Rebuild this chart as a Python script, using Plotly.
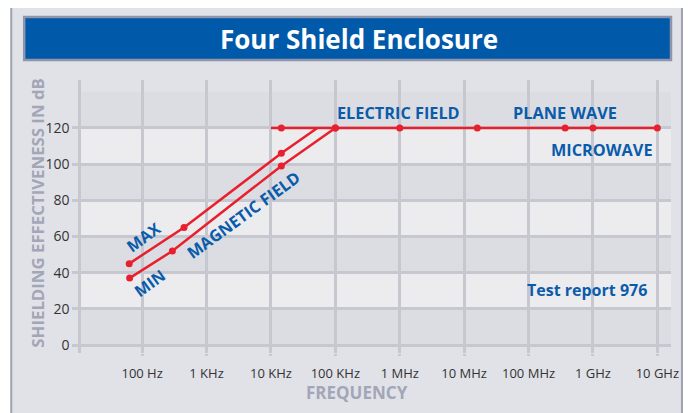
import plotly.graph_objects as go

# ---- data ----
tick_freqs = [1e2, 1e3, 1e4, 1e5, 1e6, 1e7, 1e8, 1e9, 1e10]
tick_labels = ["100 Hz", "1 KHz", "10 KHz", "100 KHz", "1 MHz", "10 MHz", "100 MHz", "1 GHz", "10 GHz"]
y_ticks = [0, 20, 40, 60, 80, 100, 120]

max_freq = [63, 447, 14500, 52500]
max_db = [45, 65, 106, 120]
min_freq = [64, 295, 14500, 100000]
min_db = [37, 52, 99, 120]
wave_freq = [10000, 14500, 1e5, 1e6, 1.6e7, 3.7e8, 1e9, 1e10]
wave_db = [120, 120, 120, 120, 120, 120, 120, 120]

# page body has an 8px offset; coordinates below are screen pixels
OFF = 8
WF, HF = 683, 413
L, R, T, B = 81, 673, 80, 353

def px(xp):
    return (xp - L) / (R - L)

def py(yp):
    return (B - yp) / (B - T)

RED = "#e8202e"
BLUE = "#0a5cab"
GRID = "#c6c7cf"
DARK = "#dcdde2"
LIGHT = "#ececef"
FRAME = "#e1e2e7"
FONT = "Open Sans"

fig = go.Figure()
fig.add_trace(go.Scatter(x=max_freq, y=max_db, mode="lines", line=dict(color=RED, width=2.5)))
fig.add_trace(go.Scatter(x=max_freq[:3], y=max_db[:3], mode="markers", marker=dict(color=RED, size=7)))
fig.add_trace(go.Scatter(x=min_freq, y=min_db, mode="lines+markers", line=dict(color=RED, width=2.5),
                         marker=dict(color=RED, size=7)))
fig.add_trace(go.Scatter(x=wave_freq, y=wave_db, mode="lines", line=dict(color=RED, width=2.5)))
fig.add_trace(go.Scatter(x=wave_freq[1:], y=wave_db[1:], mode="markers", marker=dict(color=RED, size=7)))

shapes = []
# outer frame
shapes.append(dict(type="rect", xref="paper", yref="paper", x0=px(11), x1=px(684), y0=py(430), y1=py(5),
                   fillcolor=FRAME, line=dict(color="#9ea2b3", width=2), layer="below"))
# title bar
shapes.append(dict(type="rect", xref="paper", yref="paper", x0=px(24), x1=px(673), y0=py(60), y1=py(17),
                   fillcolor="#005aa9", line=dict(color="#8f95ab", width=2.5), layer="below"))
# bands
for i, y0 in enumerate(range(0, 140, 20)):
    col = DARK if i % 2 == 0 else LIGHT
    shapes.append(dict(type="rect", xref="paper", yref="y", x0=0, x1=1, y0=y0, y1=y0 + 20,
                       fillcolor=col, line=dict(width=0), layer="below"))

annotations = [
    dict(text="<b>Four Shield Enclosure</b>", x=px(359.5), y=py(38.5), font=dict(size=26, color="white", family=FONT)),
    dict(text="<b>SHIELDING EFFECTIVENESS IN dB</b>", x=px(37), y=py(213.5), textangle=-90,
         font=dict(size=16.8, color="#a2a6b7", family=FONT)),
    dict(text="<b>FREQUENCY</b>", x=px(357.5), y=py(392), font=dict(size=17, color="#a2a6b7", family=FONT)),
    dict(text="<b>ELECTRIC FIELD</b>", x=px(399.5), y=py(112.5), font=dict(size=16.3, color=BLUE, family=FONT)),
    dict(text="<b>PLANE WAVE</b>", x=px(567), y=py(112.5), font=dict(size=16.3, color=BLUE, family=FONT)),
    dict(text="<b>MICROWAVE</b>", x=px(603.5), y=py(150), font=dict(size=16.3, color=BLUE, family=FONT)),
    dict(text="<b>Test report 976</b>", x=px(589), y=py(290), font=dict(size=16, color=BLUE, family=FONT)),
    dict(text="<b>MAX</b>", x=px(144), y=py(237), textangle=-36, font=dict(size=16, color=BLUE, family=FONT)),
    dict(text="<b>MIN</b>", x=px(150), y=py(283), textangle=-36, font=dict(size=16, color=BLUE, family=FONT)),
    dict(text="<b>MAGNETIC FIELD</b>", x=px(244), y=py(215), textangle=-36, font=dict(size=16.3, color=BLUE, family=FONT)),
]
for a in annotations:
    a.update(xref="paper", yref="paper", showarrow=False, xanchor="center", yanchor="middle")

fig.update_layout(
    width=WF, height=HF,
    margin=dict(l=L - OFF, r=WF - (R - OFF), t=T - OFF, b=HF - (B - OFF), pad=0),
    paper_bgcolor="white", plot_bgcolor="rgba(0,0,0,0)",
    showlegend=False,
    shapes=shapes, annotations=annotations,
    font=dict(family=FONT, color="#333333"),
)
fig.update_xaxes(type="log", range=[1.051, 10.212], tickvals=tick_freqs, ticktext=tick_labels,
                 showgrid=True, gridcolor=GRID, gridwidth=2.5, ticks="outside", ticklen=2,
                 tickcolor=GRID, tickwidth=2.5, tickfont=dict(size=13, color="#333333"),
                 ticklabelstandoff=6, zeroline=False, showline=False)
fig.update_yaxes(range=[-4.4, 146.5], tickvals=y_ticks, showgrid=True, gridcolor=GRID, gridwidth=2.5,
                 ticks="outside", ticklen=6, tickcolor=GRID, tickwidth=2.5,
                 tickfont=dict(size=14, color="#333333"), zeroline=False,
                 showline=True, linecolor=GRID, linewidth=2.5, ticklabelstandoff=0)

fig.write_html("out.html")
